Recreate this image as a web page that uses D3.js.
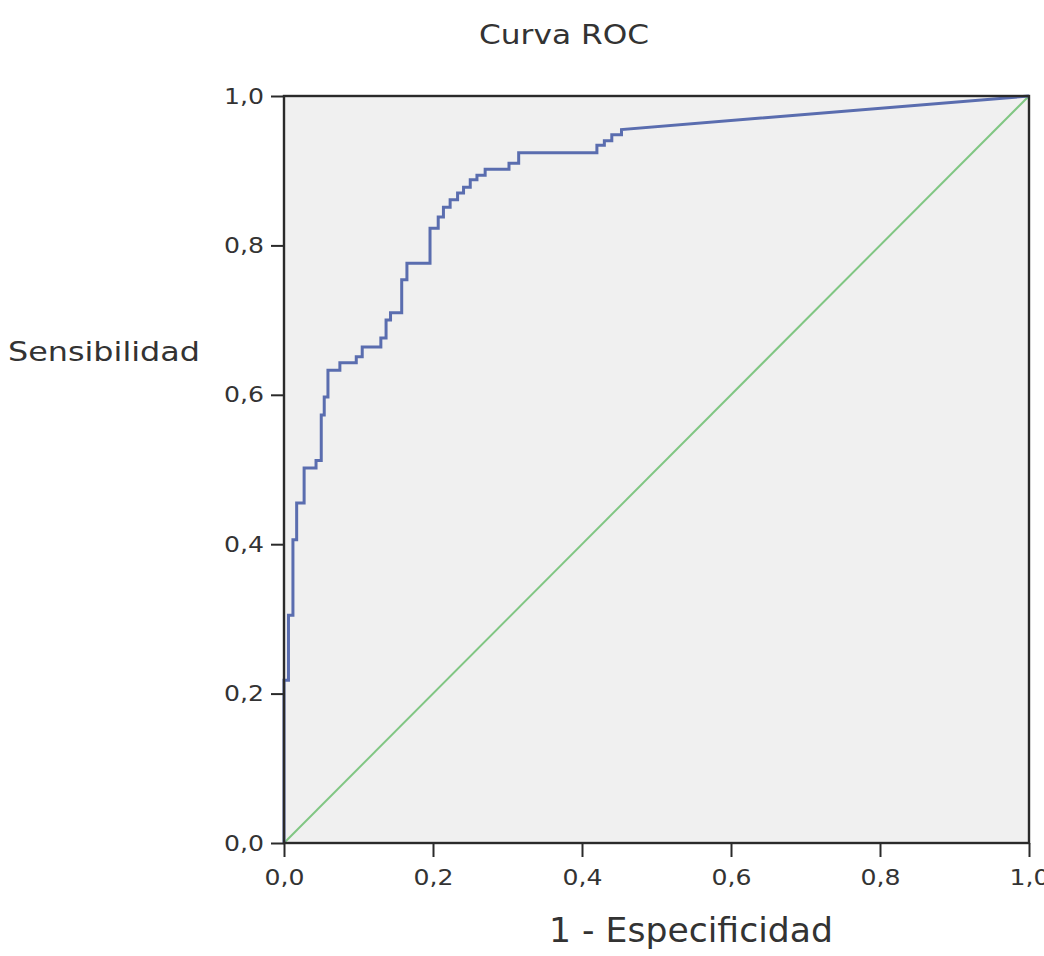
<!DOCTYPE html>
<html>
<head>
<meta charset="utf-8">
<script src="https://cdn.jsdelivr.net/npm/d3@7"></script>
<style>
  html, body { margin: 0; padding: 0; background: #ffffff; }
  svg { display: block; }
  text { font-family: "DejaVu Sans", Verdana, sans-serif; fill: #333333; }
</style>
</head>
<body>
<svg id="chart" width="1044" height="956"></svg>
<script>
// ---- data ----
const title = "Curva ROC";
const xLabel = "1 - Especificidad";
const yLabel = "Sensibilidad";
const xTicks = [0, 0.2, 0.4, 0.6, 0.8, 1.0];
const yTicks = [0, 0.2, 0.4, 0.6, 0.8, 1.0];

// ROC curve vertices: 1 - specificity (fpr) and sensitivity (tpr)
const fpr = [0, 0, 0.006, 0.006, 0.012, 0.012, 0.017, 0.017, 0.027, 0.027,
  0.043, 0.043, 0.050, 0.050, 0.054, 0.054, 0.059, 0.059, 0.075, 0.075,
  0.097, 0.097, 0.105, 0.105, 0.130, 0.130, 0.137, 0.137, 0.143, 0.143,
  0.158, 0.158, 0.165, 0.165, 0.196, 0.196, 0.207, 0.207, 0.214, 0.214,
  0.223, 0.223, 0.233, 0.233, 0.241, 0.241, 0.250, 0.250, 0.259, 0.259,
  0.270, 0.270, 0.302, 0.302, 0.315, 0.315, 0.420, 0.420, 0.430, 0.430,
  0.440, 0.440, 0.453, 0.453, 1.0];
const tpr = [0, 0.218, 0.218, 0.305, 0.305, 0.406, 0.406, 0.455, 0.455, 0.502,
  0.502, 0.512, 0.512, 0.573, 0.573, 0.597, 0.597, 0.633, 0.633, 0.643,
  0.643, 0.651, 0.651, 0.664, 0.664, 0.676, 0.676, 0.700, 0.700, 0.710,
  0.710, 0.754, 0.754, 0.776, 0.776, 0.823, 0.823, 0.838, 0.838, 0.851,
  0.851, 0.861, 0.861, 0.870, 0.870, 0.878, 0.878, 0.888, 0.888, 0.894,
  0.894, 0.902, 0.902, 0.910, 0.910, 0.924, 0.924, 0.934, 0.934, 0.940,
  0.940, 0.948, 0.948, 0.955, 1.0];
// reference (chance) line
const refX = [0, 1];
const refY = [0, 1];

// ---- drawing ----
(function () {
const svg = d3.select("#chart");
const mLeft = 284, mRight = 1029, mTop = 96, mBottom = 843;

const x = d3.scaleLinear().domain([0, 1]).range([mLeft, mRight]);
const y = d3.scaleLinear().domain([0, 1]).range([mBottom, mTop]);

const locale = d3.formatLocale({decimal: ",", thousands: ".", grouping: [3], currency: ["", "€"]});
const fmt = locale.format(".1f");

// plot background
svg.append("rect")
  .attr("x", x(0)).attr("y", y(1))
  .attr("width", x(1) - x(0)).attr("height", y(0) - y(1))
  .attr("fill", "#f0f0f0");

// reference line
svg.append("path")
  .datum(refX.map((v, i) => [v, refY[i]]))
  .attr("fill", "none")
  .attr("stroke", "#80c683")
  .attr("stroke-width", 2)
  .attr("d", d3.line().x(d => x(d[0])).y(d => y(d[1])));

// ROC curve
svg.append("path")
  .datum(fpr.map((v, i) => [v, tpr[i]]))
  .attr("fill", "none")
  .attr("stroke", "#5a6daf")
  .attr("stroke-width", 3)
  .attr("stroke-linejoin", "miter")
  .attr("d", d3.line().x(d => x(d[0])).y(d => y(d[1])));

// frame
svg.append("rect")
  .attr("x", x(0)).attr("y", y(1))
  .attr("width", x(1) - x(0)).attr("height", y(0) - y(1))
  .attr("fill", "none")
  .attr("stroke", "#2a2a2a")
  .attr("stroke-width", 2.4);

// axes
const xAxis = svg.append("g")
  .attr("transform", `translate(0,${mBottom})`)
  .call(d3.axisBottom(x).tickValues(xTicks).tickFormat(fmt).tickSize(14).tickPadding(12));
const yAxis = svg.append("g")
  .attr("transform", `translate(${mLeft},0)`)
  .call(d3.axisLeft(y).tickValues(yTicks).tickFormat(fmt).tickSize(13).tickPadding(7));

[xAxis, yAxis].forEach(g => {
  g.select(".domain").remove();
  g.selectAll(".tick line").attr("stroke", "#2a2a2a").attr("stroke-width", 2);
  g.selectAll(".tick text")
    .style("font-family", '"DejaVu Sans", Verdana, sans-serif')
    .style("font-size", "22px")
    .attr("fill", "#333333")
    .attr("textLength", 40)
    .attr("lengthAdjust", "spacingAndGlyphs");
});

// titles
svg.append("text")
  .attr("x", 564).attr("y", 44)
  .attr("text-anchor", "middle")
  .style("font-size", "26px")
  .attr("textLength", 170).attr("lengthAdjust", "spacingAndGlyphs")
  .text(title);

svg.append("text")
  .attr("x", 8).attr("y", 361)
  .attr("text-anchor", "start")
  .style("font-size", "27px")
  .attr("textLength", 192).attr("lengthAdjust", "spacingAndGlyphs")
  .text(yLabel);

svg.append("text")
  .attr("x", 691).attr("y", 942)
  .attr("text-anchor", "middle")
  .style("font-size", "33px")
  .attr("textLength", 284).attr("lengthAdjust", "spacingAndGlyphs")
  .text(xLabel);
})();
</script>
</body>
</html>
